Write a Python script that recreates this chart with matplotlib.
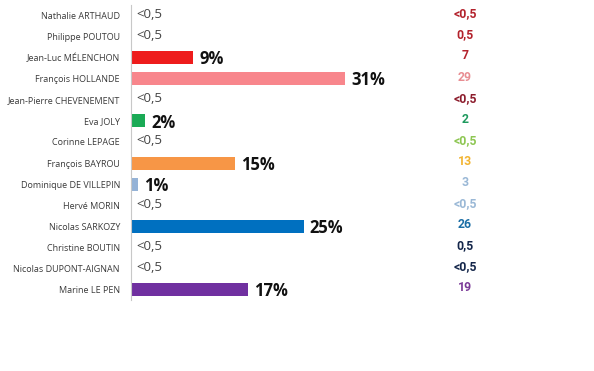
import matplotlib.pyplot as plt
from matplotlib.transforms import blended_transform_factory

names = ["Nathalie ARTHAUD", "Philippe POUTOU", "Jean-Luc MÉLENCHON", "François HOLLANDE",
         "Jean-Pierre CHEVENEMENT", "Eva JOLY", "Corinne LEPAGE", "François BAYROU",
         "Dominique DE VILLEPIN", "Hervé MORIN", "Nicolas SARKOZY", "Christine BOUTIN",
         "Nicolas DUPONT-AIGNAN", "Marine LE PEN"]
values = [0, 0, 9, 31, 0, 2, 0, 15, 1, 0, 25, 0, 0, 17]
bar_labels = ["<0,5", "<0,5", "9%", "31%", "<0,5", "2%", "<0,5", "15%", "1%", "<0,5", "25%", "<0,5", "<0,5", "17%"]
bar_colors = ["#ffffff", "#ffffff", "#ee1c1c", "#f8868c", "#ffffff", "#1aaa55", "#ffffff", "#f79646",
              "#95b3d7", "#ffffff", "#0070c0", "#ffffff", "#ffffff", "#7030a0"]
prev_labels = ["<0,5", "0,5", "7", "29", "<0,5", "2", "<0,5", "13", "3", "<0,5", "26", "0,5", "<0,5", "19"]
prev_colors = ["#b3222c", "#b3222c", "#b3222c", "#e88d92", "#8c1c2c", "#1f9a5e", "#8dc652", "#f2b431",
               "#9ab8d6", "#9ab8d6", "#1b6ea5", "#14264a", "#14264a", "#7b3a98"]

fig = plt.figure(figsize=(5.94, 3.71), dpi=100, facecolor="white")
ax = fig.add_axes([131 / 594, 71 / 371, 1 - 131 / 594, 295 / 371])

y = list(range(len(names)))
ax.barh(y, values, height=0.62, color=bar_colors, edgecolor="none")
ax.set_xlim(0, (594 - 131) / 6.9)
ax.set_ylim(len(names) - 0.5, -0.5)

ax.set_yticks(y)
ax.set_yticklabels(names, fontsize=6.5, color="#3a3a3a", family="Open Sans")
ax.tick_params(axis="y", length=0, pad=8)
ax.set_xticks([])
for s in ["top", "right", "bottom"]:
    ax.spines[s].set_visible(False)
ax.spines["left"].set_color("#c8c8c8")
ax.spines["left"].set_linewidth(0.8)

for i, (v, lab) in enumerate(zip(values, bar_labels)):
    if v == 0:
        ax.text(0.8, i - 0.05, lab, va="center", ha="left", fontsize=9.5, color="#444444",
                family="Open Sans")
    else:
        ax.text(v + 0.9, i + 0.08, lab, va="center", ha="left", fontsize=12, fontweight="bold",
                color="#111111", family="Open Sans")

trans = blended_transform_factory(fig.transFigure, ax.transData)
for i, (lab, c) in enumerate(zip(prev_labels, prev_colors)):
    ax.text(465 / 594, i - 0.08, lab, va="center", ha="center", fontsize=8.8, fontweight="bold",
            color=c, family="Roboto", transform=trans)

fig.savefig("out.png", dpi=100, facecolor="white")
